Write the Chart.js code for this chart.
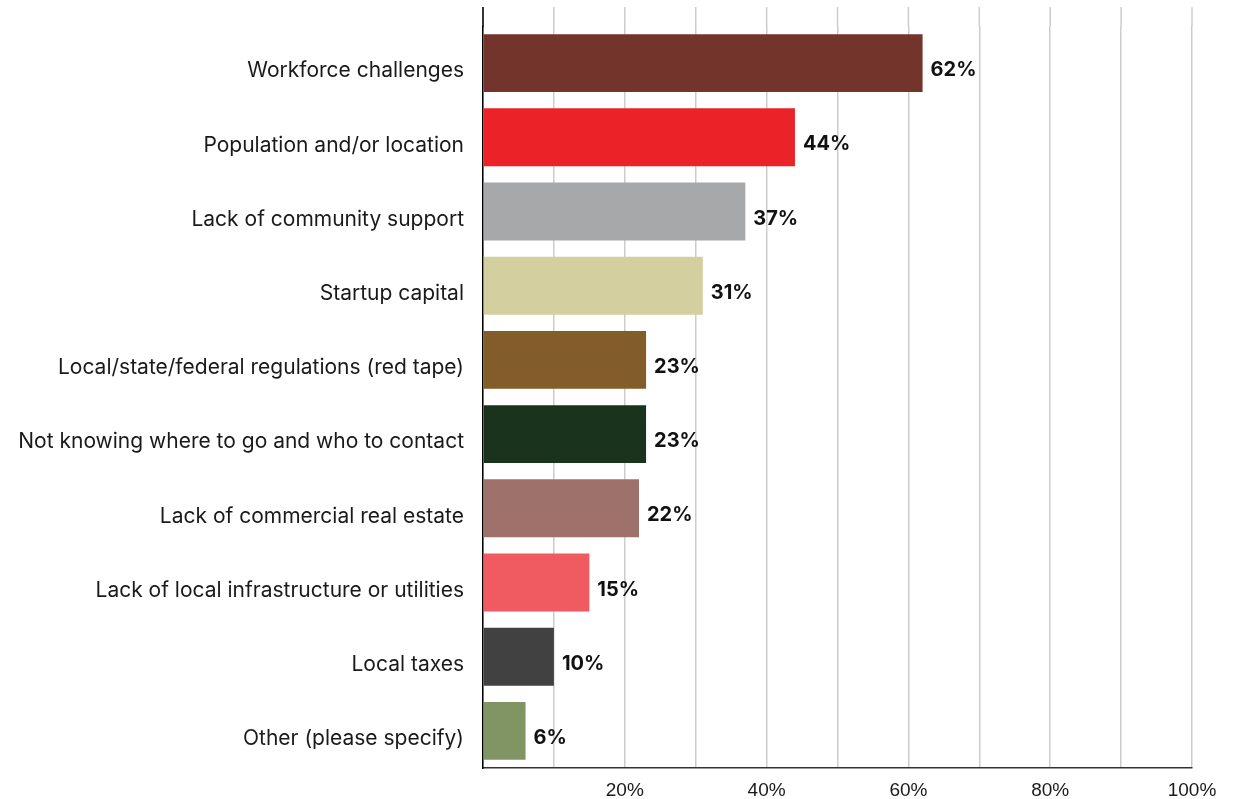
<!DOCTYPE html>
<html>
<head>
<meta charset="utf-8">
<script src="https://cdn.jsdelivr.net/npm/chart.js@4"></script>
<style>
  html, body { margin: 0; padding: 0; background: #fff; }
  #wrap { width: 1237px; height: 799px; position: relative; }
</style>
</head>
<body>
<div id="wrap"><canvas id="barrierChart"></canvas></div>
<script>
// chart data
const categories = [
  "Workforce challenges",
  "Population and/or location",
  "Lack of community support",
  "Startup capital",
  "Local/state/federal regulations (red tape)",
  "Not knowing where to go and who to contact",
  "Lack of commercial real estate",
  "Lack of local infrastructure or utilities",
  "Local taxes",
  "Other (please specify)"
];
const percentages = [62, 44, 37, 31, 23, 23, 22, 15, 10, 6];
const barColors = [
  "#72342B", "#EC2229", "#A7A8AA", "#D3CF9F", "#825D2A",
  "#1A331C", "#9E716A", "#EF5B61", "#414141", "#819463"
];
const tickLabels = { 20: "20%", 40: "40%", 60: "60%", 80: "80%", 100: "100%" };

// grid + axis lines continue a bit above the first bar band
const gridTopExtension = {
  id: "gridTopExtension",
  beforeDatasetsDraw(chart) {
    const { ctx, chartArea, scales } = chart;
    const topY = 7;
    ctx.save();
    ctx.lineWidth = 1.5;
    ctx.strokeStyle = "#cccccc";
    scales.x.ticks.forEach((t) => {
      const x = scales.x.getPixelForValue(t.value);
      ctx.beginPath();
      ctx.moveTo(x, topY);
      ctx.lineTo(x, chartArea.top);
      ctx.stroke();
    });
    ctx.strokeStyle = "#000";
    ctx.beginPath();
    ctx.moveTo(chartArea.left, topY);
    ctx.lineTo(chartArea.left, chartArea.top + 1);
    ctx.stroke();
    ctx.restore();
  },
};

// bold percent labels at the end of each bar
const valueLabels = {
  id: "valueLabels",
  afterDatasetsDraw(chart) {
    const { ctx } = chart;
    const meta = chart.getDatasetMeta(0);
    ctx.save();
    ctx.font = "bold 20px Inter";
    ctx.fillStyle = "#111";
    ctx.textAlign = "left";
    ctx.textBaseline = "middle";
    meta.data.forEach((bar, i) => {
      ctx.fillText(percentages[i] + "%", bar.x + 8, bar.y + 7);
    });
    ctx.restore();
  },
};

document.addEventListener("DOMContentLoaded", function () {
  const ctx = document.getElementById("barrierChart").getContext("2d");
  new Chart(ctx, {
    type: "bar",
    data: {
      labels: categories,
      datasets: [
        {
          data: percentages,
          backgroundColor: barColors,
          barPercentage: 0.78,
          categoryPercentage: 1,
        },
      ],
    },
    options: {
      indexAxis: "y",
      responsive: true,
      maintainAspectRatio: false,
      animation: false,
      layout: { padding: { top: 26, right: 45, bottom: 0, left: 0 } },
      plugins: {
        legend: { display: false },
        tooltip: { enabled: false },
      },
      scales: {
        x: {
          min: 0,
          max: 100,
          grid: { color: "#cccccc", lineWidth: 1.5, drawTicks: false },
          border: { color: "#333", width: 1.5 },
          afterFit: (scale) => {
            scale.height = 31;
            scale.paddingLeft = 0;
            scale.paddingRight = 0;
          },
          ticks: {
            stepSize: 10,
            autoSkip: false,
            maxRotation: 0,
            padding: 11,
            color: "#1a1a1a",
            font: { family: "Liberation Sans", size: 19 },
            callback: (v) => tickLabels[v] || "",
          },
        },
        y: {
          grid: { display: false, drawTicks: false },
          border: { color: "#000", width: 1.5 },
          afterFit: (scale) => {
            scale.width = 483;
            scale.paddingTop = 0;
            scale.paddingBottom = 0;
          },
          ticks: {
            padding: 19,
            labelOffset: 8,
            color: "#1a1a1a",
            font: { family: "Inter", size: 21 },
          },
        },
      },
    },
    plugins: [gridTopExtension, valueLabels],
  });
});
</script>
</body>
</html>
